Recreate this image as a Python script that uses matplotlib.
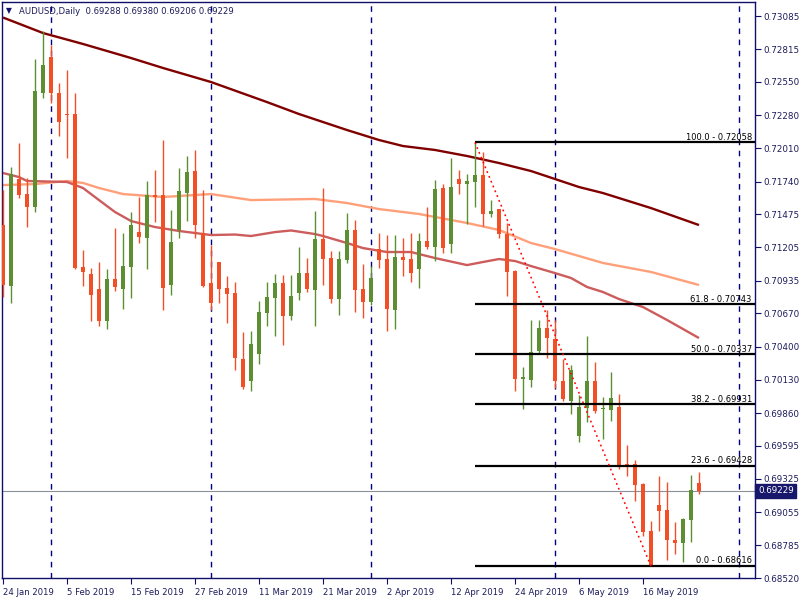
import matplotlib
matplotlib.use("Agg")
import matplotlib.pyplot as plt
import numpy as np

# ---------------- data ----------------
opens = [0.71387, 0.70892, 0.71761, 0.71639, 0.71534, 0.72460, 0.72752, 0.72460, 0.72289, 0.72289,
         0.71046, 0.70989, 0.70867, 0.70608, 0.70949, 0.70867, 0.71046, 0.71330, 0.71282, 0.71631,
         0.71631, 0.70900, 0.71347, 0.71647, 0.71826, 0.71322, 0.70916, 0.71087, 0.70876, 0.70835,
         0.70299, 0.70120, 0.70339, 0.70673, 0.70794, 0.70916, 0.70648, 0.70835, 0.70997, 0.70859,
         0.71274, 0.71119, 0.70786, 0.71103, 0.71347, 0.70867, 0.70762, 0.71192, 0.71111, 0.70697,
         0.71127, 0.71111, 0.71030, 0.71257, 0.71209, 0.71688, 0.71233, 0.71761, 0.71720, 0.71737,
         0.71793, 0.71477, 0.71517, 0.71314, 0.71014, 0.70136, 0.70128, 0.70364, 0.70551, 0.70461,
         0.70120, 0.69958, 0.69673, 0.69901, 0.70120, 0.69893, 0.69885, 0.69909, 0.69446, 0.69446,
         0.69283, 0.68902, 0.69113, 0.69072, 0.68829, 0.68804, 0.68991, 0.69288]
highs = [0.71672, 0.71858, 0.72053, 0.71769, 0.72736, 0.72963, 0.72849, 0.72541, 0.72646, 0.72460,
         0.71184, 0.71038, 0.71087, 0.71030, 0.71363, 0.71322, 0.71493, 0.71615, 0.71745, 0.71834,
         0.72078, 0.71509, 0.71850, 0.71948, 0.71997, 0.71672, 0.71225, 0.71090, 0.70973, 0.70924,
         0.70518, 0.70526, 0.70770, 0.70924, 0.70989, 0.70981, 0.70981, 0.71209, 0.71119, 0.71501,
         0.71688, 0.71176, 0.71176, 0.71485, 0.71428, 0.71071, 0.71054, 0.71322, 0.71306, 0.71306,
         0.71282, 0.71322, 0.71322, 0.71534, 0.71753, 0.71720, 0.71932, 0.71834, 0.71802, 0.72058,
         0.71980, 0.71590, 0.71517, 0.71404, 0.71022, 0.70234, 0.70616, 0.70616, 0.70697, 0.70616,
         0.70299, 0.70250, 0.70006, 0.70486, 0.70274, 0.69990, 0.70193, 0.70015, 0.69600, 0.69478,
         0.69291, 0.68983, 0.69348, 0.69300, 0.68975, 0.69007, 0.69357, 0.69380]
lows = [0.70802, 0.70754, 0.71607, 0.71371, 0.71493, 0.72419, 0.72378, 0.72110, 0.71932, 0.71030,
        0.70892, 0.70608, 0.70567, 0.70543, 0.70851, 0.70705, 0.70794, 0.71241, 0.71030, 0.71412,
        0.70697, 0.70819, 0.71282, 0.71420, 0.71282, 0.70884, 0.70697, 0.70754, 0.70591, 0.70210,
        0.70055, 0.70039, 0.70258, 0.70567, 0.70486, 0.70413, 0.70616, 0.70778, 0.70843, 0.70567,
        0.70900, 0.70754, 0.70656, 0.71079, 0.70681, 0.70632, 0.70738, 0.71038, 0.70526, 0.70543,
        0.70973, 0.70924, 0.70876, 0.71192, 0.71095, 0.71160, 0.71160, 0.71639, 0.71395, 0.71534,
        0.71379, 0.71452, 0.71282, 0.70811, 0.70039, 0.69893, 0.70071, 0.70348, 0.70307, 0.70063,
        0.69958, 0.69852, 0.69625, 0.69787, 0.69860, 0.69649, 0.69795, 0.69405, 0.69348, 0.69145,
        0.68861, 0.68616, 0.68902, 0.68666, 0.68715, 0.68650, 0.68812, 0.69206]
closes = [0.70900, 0.71802, 0.71631, 0.71534, 0.72476, 0.72687, 0.72460, 0.72224, 0.72281, 0.71038,
          0.71006, 0.70819, 0.70608, 0.70949, 0.70884, 0.71054, 0.71387, 0.71290, 0.71631, 0.71615,
          0.70876, 0.71249, 0.71664, 0.71818, 0.71387, 0.70892, 0.70754, 0.70867, 0.70827, 0.70307,
          0.70071, 0.70421, 0.70681, 0.70802, 0.70916, 0.70648, 0.70811, 0.70997, 0.70867, 0.71274,
          0.71111, 0.70786, 0.71111, 0.71347, 0.70859, 0.70762, 0.70957, 0.71103, 0.70705, 0.71127,
          0.71103, 0.70997, 0.71257, 0.71209, 0.71680, 0.71200, 0.71696, 0.71720, 0.71745, 0.71793,
          0.71477, 0.71501, 0.71314, 0.71006, 0.70136, 0.70153, 0.70356, 0.70551, 0.70469, 0.70120,
          0.69974, 0.70210, 0.69909, 0.70120, 0.69876, 0.69897, 0.69982, 0.69438, 0.69438, 0.69275,
          0.68894, 0.68626, 0.69064, 0.68829, 0.68804, 0.68999, 0.69235, 0.69229]

# moving averages sampled at bar indices
ma200_idx = [0, 5, 10, 16, 20, 26, 33, 37, 43, 47, 50, 54, 58, 62, 66, 69, 72, 75, 81, 87]
ma200_val = [0.73073, 0.72947, 0.72858, 0.72744, 0.72663, 0.72549, 0.72386, 0.72289, 0.72159, 0.72078,
             0.72029, 0.71997, 0.71948, 0.71891, 0.71826, 0.71761, 0.71696, 0.71647, 0.71525, 0.71387]
ma100_idx = [0, 4, 8, 10, 12, 15, 20, 26, 31, 39, 43, 47, 50, 52, 58, 62, 66, 69, 75, 81, 87]
ma100_val = [0.71712, 0.71720, 0.71745, 0.71729, 0.71688, 0.71639, 0.71615, 0.71639, 0.71590, 0.71599,
             0.71566, 0.71517, 0.71493, 0.71477, 0.71404, 0.71347, 0.71241, 0.71192, 0.71079, 0.71006, 0.70900]
ma50_idx = [0, 2, 3, 8, 10, 12, 14, 16, 19, 22, 26, 29, 31, 34, 36, 39, 40, 43, 45, 48, 51, 54, 58,
            60, 62, 64, 66, 69, 71, 73, 75, 77, 80, 83, 87]
ma50_val = [0.71810, 0.71777, 0.71745, 0.71737, 0.71688, 0.71590, 0.71493, 0.71420, 0.71371, 0.71339,
            0.71306, 0.71310, 0.71298, 0.71330, 0.71343, 0.71314, 0.71298, 0.71241, 0.71200, 0.71168,
            0.71168, 0.71119, 0.71062, 0.71087, 0.71111, 0.71095, 0.71054, 0.70997, 0.70957, 0.70884,
            0.70843, 0.70786, 0.70721, 0.70616, 0.70469]

date_labels = ["24 Jan 2019", "5 Feb 2019", "15 Feb 2019", "27 Feb 2019", "11 Mar 2019",
               "21 Mar 2019", "2 Apr 2019", "12 Apr 2019", "24 Apr 2019", "6 May 2019", "16 May 2019"]
date_idx = [0, 8, 16, 24, 32, 40, 48, 56, 64, 72, 80]
separator_idx = [6, 26, 46, 69, 92]

price_ticks = [0.73085, 0.72815, 0.72550, 0.72280, 0.72010, 0.71740, 0.71475, 0.71205, 0.70935,
               0.70670, 0.70400, 0.70130, 0.69860, 0.69595, 0.69325, 0.69055, 0.68785, 0.68520]

fib_levels = [100.0, 61.8, 50.0, 38.2, 23.6, 0.0]
fib_prices = [0.72058, 0.70743, 0.70337, 0.69931, 0.69428, 0.68616]
fib_start = 59
trend_idx = [59, 81]
trend_val = [0.72058, 0.68616]

last_price = 0.69229
title = "AUDUSD,Daily  0.69288 0.69380 0.69206 0.69229"

# ---------------- style ----------------
GREEN = "#5b8f32"
RED = "#f24f26"
NAVY = "#10106a"
TXT = "#1c1c5c"
FONT = "DejaVu Sans"

fig = plt.figure(figsize=(8, 6), dpi=100)
fig.patch.set_facecolor("white")
ax = fig.add_axes([2 / 800, 22 / 600, 753 / 800, 576 / 600])
ax.set_facecolor("white")
ax.set_xlim(-0.125, 94)
ax.set_ylim(0.68520, 0.73199)

# separators
for s in separator_idx:
    ax.axvline(s, color="#000080", lw=1, ls=(0, (4, 4)), zorder=1)

# moving averages
ax.plot(ma200_idx, ma200_val, color="#800000", lw=1.7, zorder=2, solid_capstyle="butt")
ax.plot(ma100_idx, ma100_val, color="#ffa07a", lw=1.7, zorder=2, solid_capstyle="butt")
ax.plot(ma50_idx, ma50_val, color="#cd5c5c", lw=1.7, zorder=2, solid_capstyle="butt")

# current price line
ax.axhline(last_price, color="#8a909c", lw=0.8, zorder=1.5)

# candles
o = np.array(opens); h = np.array(highs); l = np.array(lows); c = np.array(closes)
x = np.arange(len(o))
up = c >= o
cols = np.where(up, GREEN, RED)
ax.vlines(x, l, h, colors=cols, lw=1.0, zorder=3)
body_bot = np.minimum(o, c)
body_h = np.maximum(np.abs(c - o), 0.00002)
ax.bar(x, body_h, bottom=body_bot, width=0.62, color=cols, edgecolor=cols, lw=0, zorder=4)

# fibonacci
for lev, p in zip(fib_levels, fib_prices):
    ax.plot([fib_start, 94], [p, p], color="black", lw=1.6, zorder=5, solid_capstyle="butt")
    ax.text(93.6, p + 0.00006, f"{lev:.1f} - {p:.5f}", ha="right", va="bottom",
            fontsize=6.0, family=FONT, color="black", zorder=6)
ax.plot(trend_idx, trend_val, color="red", lw=1.1, ls=(0, (1.2, 2.2)), zorder=5)

# axes styling
for sp in ax.spines.values():
    sp.set_color(NAVY)
    sp.set_linewidth(1.0)
ax.yaxis.tick_right()
ax.set_yticks(price_ticks)
ax.set_yticklabels([f"{t:.5f}" for t in price_ticks])
ax.tick_params(axis="y", direction="out", length=4, width=0.8, color=NAVY, pad=2,
               labelsize=6.3, labelcolor=TXT)
ax.set_xticks(date_idx)
ax.set_xticklabels(date_labels, ha="left")
ax.tick_params(axis="x", direction="out", length=4, width=0.8, color=NAVY, pad=3,
               labelsize=6.1, labelcolor=TXT)
for lbl in ax.get_xticklabels() + ax.get_yticklabels():
    lbl.set_family(FONT)

# last price tag
ax.text(1.004, last_price, f"{last_price:.5f}", transform=ax.get_yaxis_transform(),
        ha="left", va="center", fontsize=6.3, family=FONT, color="white", zorder=10,
        bbox=dict(boxstyle="square,pad=0.3", fc="#16166a", ec="#16166a"), clip_on=False)

# title
fig.text(6 / 800, 1 - 11 / 600, "\u25BC", fontsize=5.5, color=NAVY, family=FONT, va="center")
fig.text(19 / 800, 1 - 11 / 600, title, fontsize=6.1, color=TXT, family=FONT, va="center")

fig.savefig("out.png", dpi=100)
